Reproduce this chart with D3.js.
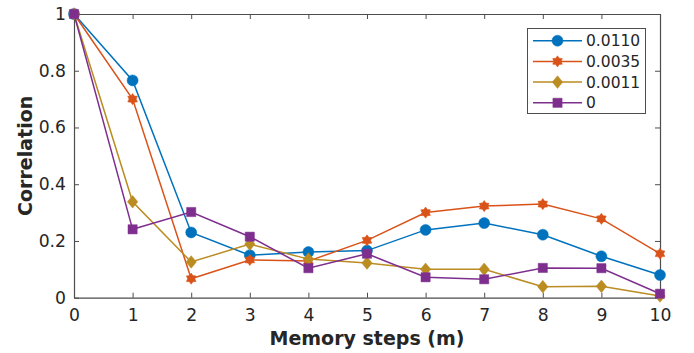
<!DOCTYPE html>
<html><head><meta charset="utf-8">
<script src="https://cdn.jsdelivr.net/npm/d3@7"></script>
<style>body{margin:0;background:#fff}svg{display:block}text{font-family:"DejaVu Sans",sans-serif}</style>
</head><body><svg id="c" width="694" height="353"></svg>
<script>
const steps = [0,1,2,3,4,5,6,7,8,9,10];
const labels = ["0.0110","0.0035","0.0011","0"];
const s0110 = [1,0.766,0.230,0.150,0.161,0.166,0.239,0.263,0.222,0.146,0.080];
const s0035 = [1,0.700,0.067,0.133,0.129,0.202,0.300,0.323,0.330,0.278,0.155];
const s0011 = [1,0.338,0.126,0.189,0.136,0.122,0.100,0.100,0.039,0.040,0.006];
const s0    = [1,0.241,0.302,0.215,0.104,0.155,0.072,0.065,0.105,0.104,0.014];
const xTicks = [0,1,2,3,4,5,6,7,8,9,10];
const yTicks = [0,0.2,0.4,0.6,0.8,1];

const colors = ["#0072BD","#D95319","#BA8C22","#7E2F8E"];
const shapes = ["circle","hex","diamond","square"];
const series = [s0110,s0035,s0011,s0];

const svg = d3.select("#c");
const L=74,R=660,T=14,B=297.7;
const x = d3.scaleLinear().domain([0,10]).range([L,R]);
const y = d3.scaleLinear().domain([0,1]).range([B,T]);
const axisCol="#4d4d4d", textCol="#262626";

const gx = svg.append("g").attr("transform",`translate(0,${B})`)
  .call(d3.axisBottom(x).tickValues(xTicks).tickFormat(d3.format("d")).tickSizeInner(-5).tickSizeOuter(0).tickPadding(11));
const gy = svg.append("g").attr("transform",`translate(${L},0)`)
  .call(d3.axisLeft(y).tickValues(yTicks).tickFormat(d=>d===0||d===1?String(d):d3.format(".1f")(d)).tickSizeInner(-5).tickSizeOuter(0).tickPadding(8));
const gxt = svg.append("g").attr("transform",`translate(0,${T})`)
  .call(d3.axisTop(x).tickValues(xTicks).tickFormat("").tickSizeInner(-5).tickSizeOuter(0));
const gyr = svg.append("g").attr("transform",`translate(${R},0)`)
  .call(d3.axisRight(y).tickValues(yTicks).tickFormat("").tickSizeInner(-5).tickSizeOuter(0));
[gx,gy,gxt,gyr].forEach(g=>{
  g.select(".domain").attr("stroke",axisCol).attr("stroke-width",1.2);
  g.selectAll(".tick line").attr("stroke",axisCol).attr("stroke-width",1);
  g.selectAll(".tick text").attr("fill",textCol).attr("font-size",17.2).attr("font-family","DejaVu Sans");
});

function symPath(shape){
  if(shape==="circle") return d3.symbol(d3.symbolCircle,Math.PI*5.5*5.5)();
  if(shape==="square") return d3.symbol(d3.symbolSquare,9.2*9.2)();
  if(shape==="diamond"){const a=5.2,b=6.3;return `M0,${-b}L${a},0L0,${b}L${-a},0Z`;}
  if(shape==="hex"){
    let p=[];for(let i=0;i<12;i++){const r=i%2===0?5.6:3.6;const ang=Math.PI/2+i*Math.PI/6;p.push([r*Math.cos(ang),-r*Math.sin(ang)]);}
    return "M"+p.map(q=>q.join(",")).join("L")+"Z";}
}

const line = d3.line().x((d,i)=>x(steps[i])).y(d=>y(d));
series.forEach((s,k)=>{
  const g=svg.append("g");
  g.append("path").datum(s).attr("d",line).attr("fill","none").attr("stroke",colors[k]).attr("stroke-width",1.5);
  g.selectAll("path.m").data(s).join("path").attr("class","m")
    .attr("transform",(d,i)=>`translate(${x(steps[i])},${y(d)})`)
    .attr("d",symPath(shapes[k])).attr("fill",colors[k]).attr("stroke",colors[k]).attr("stroke-width",0.5);
});

svg.append("text").attr("x",(L+R)/2).attr("y",345).attr("text-anchor","middle")
  .attr("font-weight","bold").attr("font-size",19).attr("fill",textCol).text("Memory steps (m)");
svg.append("text").attr("transform",`translate(31.5,${(T+B)/2}) rotate(-90)`).attr("text-anchor","middle")
  .attr("font-weight","bold").attr("font-size",19).attr("fill",textCol).text("Correlation");

const lg=svg.append("g");
lg.append("rect").attr("x",527.5).attr("y",28.5).attr("width",118).attr("height",85).attr("fill","#fff").attr("stroke",axisCol).attr("stroke-width",1);
labels.forEach((lab,k)=>{
  const yy=40.7+k*20.7;
  lg.append("line").attr("x1",533).attr("x2",582).attr("y1",yy).attr("y2",yy).attr("stroke",colors[k]).attr("stroke-width",1.5);
  lg.append("path").attr("transform",`translate(557.5,${yy})`).attr("d",symPath(shapes[k])).attr("fill",colors[k]).attr("stroke",colors[k]).attr("stroke-width",0.5);
  lg.append("text").attr("x",586).attr("y",yy+5.6).attr("font-size",15.5).attr("fill",textCol).text(lab);
});
</script></body></html>
